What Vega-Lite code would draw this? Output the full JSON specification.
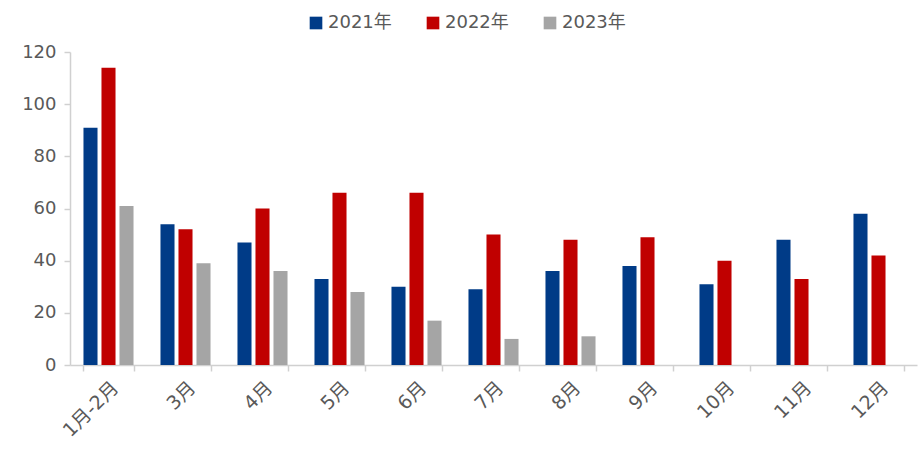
{
  "$schema": "https://vega.github.io/schema/vega-lite/v6.json",
  "width": 847,
  "height": 313,
  "autosize": "none",
  "padding": {"left": 70, "top": 52, "right": 2, "bottom": 85},
  "background": "white",
  "config": {
    "view": {"stroke": null},
    "font": "DejaVu Sans, Noto Sans CJK SC"
  },
  "data": {
    "values": [
      {"month": "1月-2月", "year": "2021年", "value": 91},
      {"month": "1月-2月", "year": "2022年", "value": 114},
      {"month": "1月-2月", "year": "2023年", "value": 61},
      {"month": "3月", "year": "2021年", "value": 54},
      {"month": "3月", "year": "2022年", "value": 52},
      {"month": "3月", "year": "2023年", "value": 39},
      {"month": "4月", "year": "2021年", "value": 47},
      {"month": "4月", "year": "2022年", "value": 60},
      {"month": "4月", "year": "2023年", "value": 36},
      {"month": "5月", "year": "2021年", "value": 33},
      {"month": "5月", "year": "2022年", "value": 66},
      {"month": "5月", "year": "2023年", "value": 28},
      {"month": "6月", "year": "2021年", "value": 30},
      {"month": "6月", "year": "2022年", "value": 66},
      {"month": "6月", "year": "2023年", "value": 17},
      {"month": "7月", "year": "2021年", "value": 29},
      {"month": "7月", "year": "2022年", "value": 50},
      {"month": "7月", "year": "2023年", "value": 10},
      {"month": "8月", "year": "2021年", "value": 36},
      {"month": "8月", "year": "2022年", "value": 48},
      {"month": "8月", "year": "2023年", "value": 11},
      {"month": "9月", "year": "2021年", "value": 38},
      {"month": "9月", "year": "2022年", "value": 49},
      {"month": "10月", "year": "2021年", "value": 31},
      {"month": "10月", "year": "2022年", "value": 40},
      {"month": "11月", "year": "2021年", "value": 48},
      {"month": "11月", "year": "2022年", "value": 33},
      {"month": "12月", "year": "2021年", "value": 58},
      {"month": "12月", "year": "2022年", "value": 42}
    ]
  },
  "mark": {"type": "bar"},
  "encoding": {
    "x": {
      "field": "month",
      "type": "nominal",
      "sort": null,
      "scale": {"paddingInner": 0.35, "paddingOuter": 0.175},
      "axis": {
        "title": null,
        "labelAngle": -45,
        "labelFontSize": 19,
        "labelColor": "#595959",
        "labelPadding": 7,
        "domainColor": "#d0d0d0",
        "domainWidth": 1.5,
        "tickColor": "#d0d0d0",
        "tickWidth": 1.5,
        "tickSize": 6,
        "tickBand": "extent",
        "grid": false
      }
    },
    "xOffset": {
      "field": "year",
      "type": "nominal",
      "scale": {"domain": ["2021年", "2022年", "2023年"], "paddingInner": 0.22}
    },
    "y": {
      "field": "value",
      "type": "quantitative",
      "scale": {"domain": [0, 120]},
      "axis": {
        "title": null,
        "values": [0, 20, 40, 60, 80, 100, 120],
        "labelFontSize": 18,
        "labelColor": "#595959",
        "labelPadding": 8,
        "domainColor": "#d0d0d0",
        "domainWidth": 1.5,
        "tickColor": "#d0d0d0",
        "tickWidth": 1.5,
        "tickSize": 6,
        "grid": false
      }
    },
    "color": {
      "field": "year",
      "type": "nominal",
      "scale": {
        "domain": ["2021年", "2022年", "2023年"],
        "range": ["#003B87", "#C00000", "#A5A5A5"]
      },
      "legend": {
        "title": null,
        "orient": "none",
        "direction": "horizontal",
        "legendX": 237,
        "legendY": -38,
        "symbolType": "square",
        "symbolSize": 160,
        "symbolStrokeWidth": 0,
        "labelFontSize": 18,
        "labelColor": "#595959",
        "columnPadding": 32,
        "labelOffset": 3
      }
    }
  }
}
